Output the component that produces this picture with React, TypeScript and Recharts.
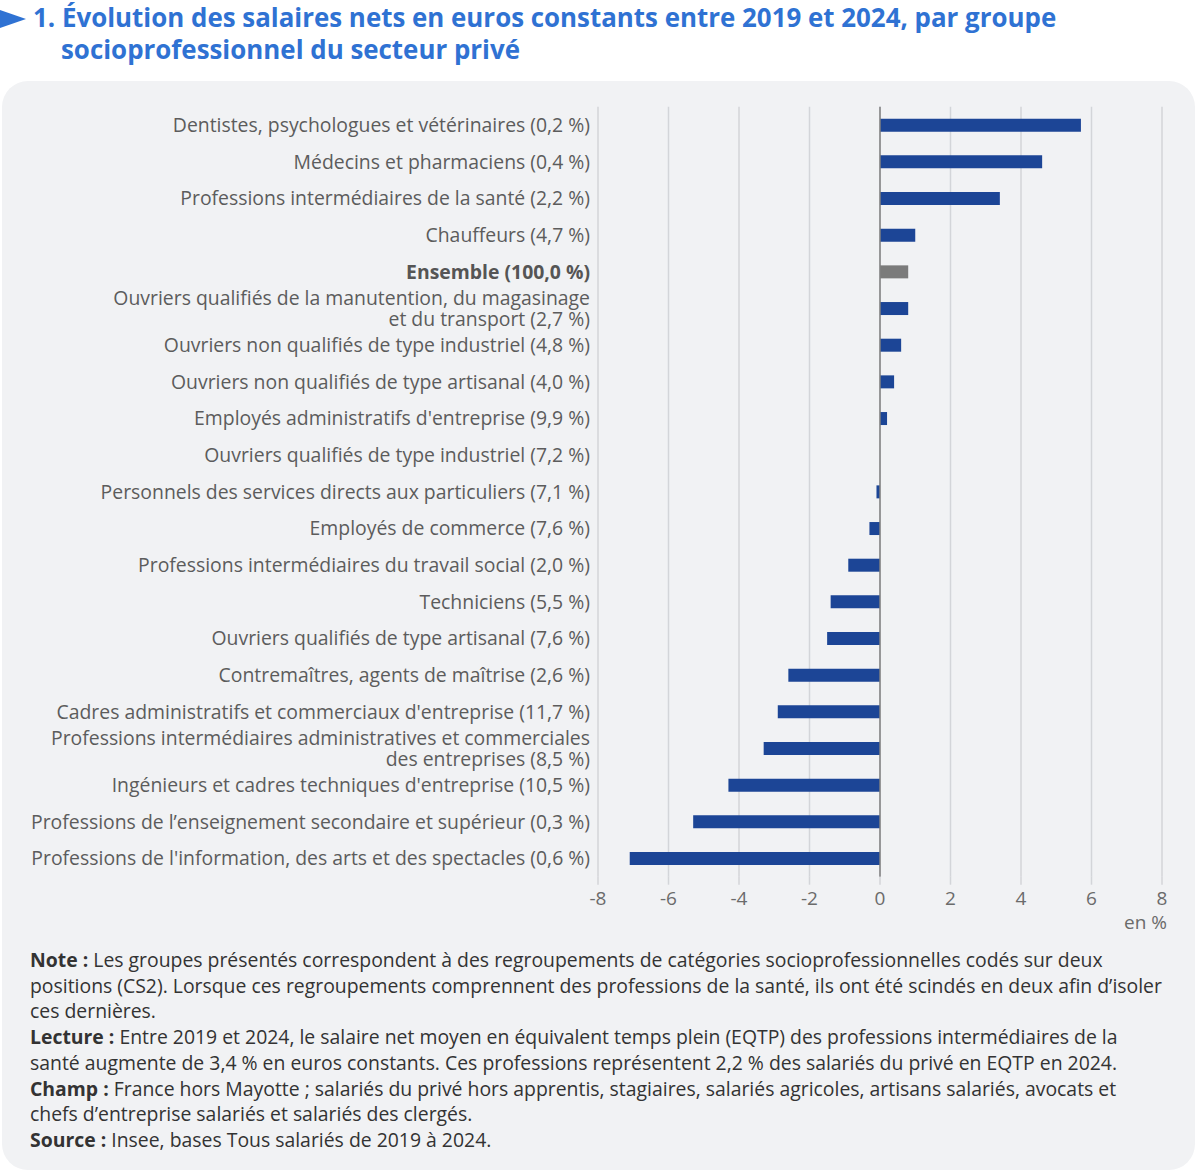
import React from 'react';
import { BarChart, Bar, XAxis, YAxis, CartesianGrid, ReferenceLine, Cell } from 'recharts';

// Groupes socioprofessionnels (part dans l'emploi privé en EQTP entre parenthèses)
const categories: string[] = [
  'Dentistes, psychologues et vétérinaires (0,2 %)',
  'Médecins et pharmaciens (0,4 %)',
  'Professions intermédiaires de la santé (2,2 %)',
  'Chauffeurs (4,7 %)',
  'Ensemble (100,0 %)',
  'Ouvriers qualifiés de la manutention, du magasinage\net du transport (2,7 %)',
  'Ouvriers non qualifiés de type industriel (4,8 %)',
  'Ouvriers non qualifiés de type artisanal (4,0 %)',
  "Employés administratifs d'entreprise (9,9 %)",
  'Ouvriers qualifiés de type industriel (7,2 %)',
  'Personnels des services directs aux particuliers (7,1 %)',
  'Employés de commerce (7,6 %)',
  'Professions intermédiaires du travail social (2,0 %)',
  'Techniciens (5,5 %)',
  'Ouvriers qualifiés de type artisanal (7,6 %)',
  'Contremaîtres, agents de maîtrise (2,6 %)',
  "Cadres administratifs et commerciaux d'entreprise (11,7 %)",
  'Professions intermédiaires administratives et commerciales\ndes entreprises (8,5 %)',
  "Ingénieurs et cadres techniques d'entreprise (10,5 %)",
  'Professions de l’enseignement secondaire et supérieur (0,3 %)',
  "Professions de l'information, des arts et des spectacles (0,6 %)",
];

// Évolution 2019-2024 du salaire net moyen en euros constants (en %)
const evolution: number[] = [
  5.7, 4.6, 3.4, 1.0, 0.8, 0.8, 0.6, 0.4, 0.2, 0.0,
  -0.1, -0.3, -0.9, -1.4, -1.5, -2.6, -2.9, -3.3, -4.3, -5.3, -7.1,
];

const totalLabel = 'Ensemble (100,0 %)';
const xTicks: number[] = [-8, -6, -4, -2, 0, 2, 4, 6, 8];

const data = categories.map((label, i) => ({ label, value: evolution[i] }));

const BLUE = '#1c4596';
const GREY_BAR = '#7b7b7b';
const FONT = '"Open Sans", "Noto Sans", sans-serif';

const CategoryTick = (props: any) => {
  const { x, y, payload } = props;
  const text: string = payload.value;
  const lines = text.split('\n');
  const isTotal = text === totalLabel;
  const lh = 21;
  const start = -((lines.length - 1) * lh) / 2;
  return (
    <text
      x={x}
      y={y}
      textAnchor="end"
      fontFamily={FONT}
      fontSize={19.4}
      fontWeight={isTotal ? 700 : 400}
      fill={isTotal ? '#555555' : '#5c5c5c'}
    >
      {lines.map((ln, i) => (
        <tspan key={i} x={x} y={y + start + i * lh} dy="0.355em">
          {ln}
        </tspan>
      ))}
    </text>
  );
};

const notes: { head: string; lines: string[] }[] = [
  {
    head: 'Note :',
    lines: [
      ' Les groupes présentés correspondent à des regroupements de catégories socioprofessionnelles codés sur deux',
      'positions (CS2). Lorsque ces regroupements comprennent des professions de la santé, ils ont été scindés en deux afin d’isoler',
      'ces dernières.',
    ],
  },
  {
    head: 'Lecture :',
    lines: [
      ' Entre 2019 et 2024, le salaire net moyen en équivalent temps plein (EQTP) des professions intermédiaires de la',
      'santé augmente de 3,4 % en euros constants. Ces professions représentent 2,2 % des salariés du privé en EQTP en 2024.',
    ],
  },
  {
    head: 'Champ :',
    lines: [
      ' France hors Mayotte ; salariés du privé hors apprentis, stagiaires, salariés agricoles, artisans salariés, avocats et',
      'chefs d’entreprise salariés et salariés des clergés.',
    ],
  },
  {
    head: 'Source :',
    lines: [' Insee, bases Tous salariés de 2019 à 2024.'],
  },
];

export default function App() {
  return (
    <div
      style={{
        position: 'absolute',
        left: 0,
        top: 0,
        width: 1200,
        height: 1173,
        background: '#ffffff',
        fontFamily: FONT,
        overflow: 'hidden',
      }}
    >
      {/* Titre */}
      <svg
        width={26}
        height={20}
        style={{ position: 'absolute', left: 0, top: 9 }}
      >
        <polygon points="0,1 26,10 0,19" fill="#2f72d3" />
      </svg>
      <div
        style={{
          position: 'absolute',
          left: 33,
          top: 1,
          color: '#2f72d3',
          fontWeight: 700,
          fontSize: 25.9,
          lineHeight: '32px',
          whiteSpace: 'nowrap',
        }}
      >
        <div>1. Évolution des salaires nets en euros constants entre 2019 et 2024, par groupe</div>
        <div style={{ paddingLeft: 28 }}>socioprofessionnel du secteur privé</div>
      </div>

      {/* Cadre gris */}
      <div
        style={{
          position: 'absolute',
          left: 2,
          top: 81,
          width: 1193,
          height: 1089,
          background: '#f1f2f4',
          borderRadius: 26,
        }}
      />

      <div style={{ position: 'absolute', left: 0, top: 0 }}>
        <BarChart
          width={1200}
          height={920}
          data={data}
          layout="vertical"
          margin={{ top: 106.7, right: 38, bottom: 0, left: 0 }}
          barSize={13}
        >
          <CartesianGrid horizontal={false} stroke="#d3d5d9" strokeWidth={1.5} />
          <XAxis
            type="number"
            domain={[-8, 8]}
            ticks={xTicks}
            interval={0}
            height={43.3}
            axisLine={false}
            tickLine={{ stroke: '#d3d5d9', strokeWidth: 1.5 }}
            tickSize={8}
            tickMargin={7}
            tick={{ fontFamily: FONT, fontSize: 19, fill: '#6b6b6b' }}
          />
          <YAxis
            type="category"
            dataKey="label"
            width={598}
            axisLine={false}
            tickLine={false}
            interval={0}
            tick={<CategoryTick />}
          />
          <Bar dataKey="value" isAnimationActive={false}>
            {data.map((d) => (
              <Cell key={d.label} fill={d.label === totalLabel ? GREY_BAR : BLUE} />
            ))}
          </Bar>
          <ReferenceLine x={0} stroke="#808080" strokeWidth={1.5} />
        </BarChart>
      </div>

      {/* Unité */}
      <div
        style={{
          position: 'absolute',
          right: 33,
          top: 909,
          fontSize: 19,
          color: '#6b6b6b',
          lineHeight: '26px',
        }}
      >
        en %
      </div>

      {/* Notes */}
      <div
        style={{
          position: 'absolute',
          left: 30,
          top: 947,
          fontSize: 19.4,
          lineHeight: '25.7px',
          color: '#333333',
          whiteSpace: 'nowrap',
        }}
      >
        {notes.map((n) =>
          n.lines.map((ln, i) => (
            <div key={n.head + i}>
              {i === 0 && <b>{n.head}</b>}
              {ln}
            </div>
          ))
        )}
      </div>
    </div>
  );
}
